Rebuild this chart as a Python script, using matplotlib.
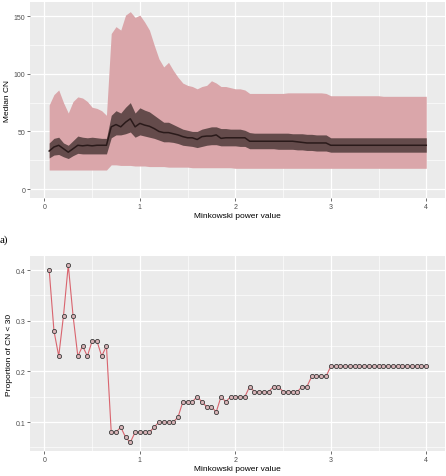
import numpy as np
import matplotlib
matplotlib.use("Agg")
import matplotlib.pyplot as plt
from matplotlib.ticker import MultipleLocator

# ── Data ──────────────────────────────────────────────────────────────────────
power = np.round(np.arange(1, 81) * 0.05, 2)

median_cn = [33, 36.5, 38, 35, 32, 35, 38, 37.5, 38, 37.5, 38, 38, 38,
             54, 56, 54, 58, 61, 54, 57, 55.5, 54.5, 52.5, 50, 49, 49, 48, 47,
             45.5, 44.5, 44.5, 43, 45.5, 46, 46, 47, 44, 44.5, 44.5, 44.5, 44.5,
             44.5, 41.5, 41.5, 41.5, 41.5, 41.5, 41.5, 41.5, 41.5, 41.5, 41.5,
             41, 40.5, 40, 40, 40, 40, 40, 38] + [38] * 20
inner_hi = [40, 44, 45, 40, 38, 42, 46, 45, 44.5, 45, 44.5, 44, 44,
            64, 68, 66, 71, 75, 66, 70.5, 68.5, 67, 64, 61, 58, 58, 56, 54,
            52, 51, 50, 50, 52, 53, 54, 54, 52.5, 52.5, 52, 52, 52, 51,
            49, 48.5, 48.5, 48.5, 48.5, 48.5, 48.5, 48.5, 48.5, 48, 48, 48,
            47.5, 47.5, 47, 47, 47, 44.5] + [44.5] * 20
inner_lo = [27, 29.5, 30, 28, 26.5, 29, 31, 30.5, 30.5, 30.5, 30.5, 30.5, 30.5,
            44.5, 47, 47, 48, 49.5, 45, 47, 46, 45, 44, 42.5, 41, 41, 40.5,
            39.5, 38, 37.5, 37, 36, 37, 38, 38.5, 38.5, 37.5, 37.5, 37.5, 37.5,
            37, 37, 35, 35, 35, 35, 35, 35, 34.5, 34.5, 34.5, 34.5, 34, 34,
            33.5, 33.5, 33, 33, 33, 32] + [32] * 20
outer_hi = [73, 82, 86, 75, 66, 76, 80, 79, 76, 71, 70, 68, 64,
            135, 141, 138, 151, 154, 149, 151, 145, 138, 125, 113, 106, 110,
            103, 97, 92, 90, 89, 87, 89, 90, 94, 92, 89, 89, 88, 87, 87, 86,
            83, 83, 83, 83, 83, 83, 83, 83, 83.5, 83.5, 83.5, 83.5, 83.5, 83.5,
            83.5, 83.5, 83, 81] + [81] * 10 + [80.5] * 10
outer_lo = [16.5, 16.5, 16.5, 16.5, 16.5, 16.5, 16.5, 16.5, 16.5, 16.5,
            16.5, 16.5, 16.5, 21, 21, 20.5, 20.5, 20.5, 20, 20, 20, 19.5, 19.5,
            19.5, 19.5, 19, 19, 19, 19, 19, 18.5, 18.5, 18.5, 18.5, 18.5, 18.5,
            18.5, 18.5, 18.5, 18] + [18] * 40

prop_lt30 = [0.40, 0.28, 0.23, 0.31, 0.41, 0.31, 0.23, 0.25, 0.23, 0.26,
             0.26, 0.23, 0.25, 0.08, 0.08, 0.09, 0.07, 0.06, 0.08, 0.08,
             0.08, 0.08, 0.09, 0.10, 0.10, 0.10, 0.10, 0.11, 0.14, 0.14,
             0.14, 0.15, 0.14, 0.13, 0.13, 0.12, 0.15, 0.14, 0.15, 0.15,
             0.15, 0.15, 0.17, 0.16, 0.16, 0.16, 0.16, 0.17, 0.17, 0.16,
             0.16, 0.16, 0.16, 0.17, 0.17, 0.19, 0.19, 0.19, 0.19, 0.21] + [0.21] * 20

# ── Style ─────────────────────────────────────────────────────────────────────
plt.rcParams["font.family"] = ["Liberation Sans", "DejaVu Sans"]
BG = "#EBEBEB"
TICK_COL = "#4D4D4D"


def gg_axes(ax):
    ax.set_facecolor(BG)
    for s in ax.spines.values():
        s.set_visible(False)
    ax.grid(which="major", color="white", linewidth=0.9)
    ax.grid(which="minor", color="white", linewidth=0.45)
    ax.set_axisbelow(True)
    ax.tick_params(which="major", length=2, width=0.5, color="#333333",
                   labelsize=5, labelcolor=TICK_COL, pad=1.5)
    ax.tick_params(which="minor", length=0)
    ax.xaxis.set_major_locator(MultipleLocator(1))
    ax.xaxis.set_minor_locator(MultipleLocator(0.5))
    ax.set_xlim(-0.1475, 4.1975)
    ax.set_xlabel("Minkowski power value", fontsize=6, labelpad=1.5)


fig = plt.figure(figsize=(4.46, 4.77), dpi=100)

# ── Top panel: median CN ribbons ─────────────────────────────────────────────
ax1 = fig.add_axes([0.068, 0.583, 0.930, 0.411])
gg_axes(ax1)
ax1.fill_between(power, outer_lo, outer_hi, color="#DAA6AA", linewidth=0)
ax1.fill_between(power, inner_lo, inner_hi, color="#644B4B", linewidth=0)
ax1.plot(power, median_cn, color="#2A1A1A", linewidth=1.1)
ax1.set_ylim(-7.7, 162.5)
ax1.yaxis.set_major_locator(MultipleLocator(50))
ax1.yaxis.set_minor_locator(MultipleLocator(25))
ax1.set_ylabel("Median CN", fontsize=6, labelpad=2)

fig.text(0.0, 0.497, "a)", fontsize=8, family="Liberation Serif",
         ha="left", va="center")

# ── Bottom panel: proportion CN < 30 ─────────────────────────────────────────
ax2 = fig.add_axes([0.068, 0.052, 0.930, 0.409])
gg_axes(ax2)
ax2.plot(power, prop_lt30, color="#D9646E", linewidth=0.8, zorder=2)
ax2.scatter(power, prop_lt30, s=9, facecolor="#D8B4B7", edgecolor="#3A3A3A",
            linewidth=0.6, zorder=3)
ax2.set_ylim(0.0425, 0.4275)
ax2.yaxis.set_major_locator(MultipleLocator(0.1))
ax2.yaxis.set_minor_locator(MultipleLocator(0.05))
ax2.set_ylabel("Proportion of CN < 30", fontsize=6, labelpad=2)

fig.savefig("out.png", dpi=100)
